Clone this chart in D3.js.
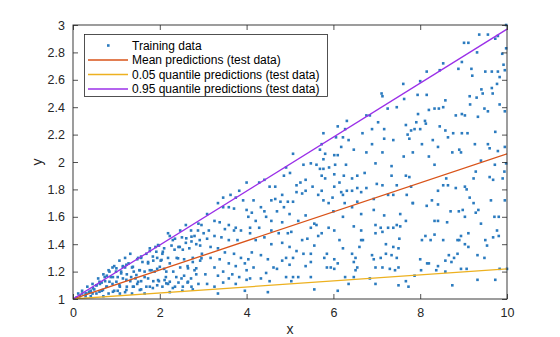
<!DOCTYPE html>
<html><head><meta charset="utf-8">
<script src="https://cdn.jsdelivr.net/npm/d3@7"></script>
<style>body{margin:0;background:#fff}svg{display:block}text{font-family:"Liberation Sans",Arial,Helvetica,sans-serif}</style>
</head><body><svg id="c" width="560" height="337"></svg>
<script>
// Training data (x, y)
const trainX = [9.01,9.11,9.36,9.56,9.73,9.79,9.98,9.98,9.31,9.89,8.96,9.92,8.88,9.18,9.5,9.65,9.79,9.95,9.2,9.83,9.77,9.65,9.41,9.44,9.67,9.14,9.3,9.15,9.83,9.48,9.56,9.95,8.96,9.03,9.33,8.82,8.96,9.09,9.73,9.95,9.26,9.56,9.6,8.94,8.9,9.79,9.98,9.40,9.72,9.94,9.28,9.23,9.6,9.68,9.9,9.03,9.07,9.14,9.23,9.63,9.95,9.34,9.28,9.81,9.71,8.89,8.98,9.03,9.4,9.11,8.94,9.81,8.86,9.5,9.68,9.54,9.03,9.11,9.77,9.32,9.48,9.07,9.83,10,9.32,9.73,8.94,
8.53,8.45,8.15,8.0,7.94,8.15,8.58,8.53,8.43,8.33,8.2,7.95,8.11,7.91,8.13,8.45,8.58,7.87,8.0,7.79,8.64,8.76,8.29,8.04,8.41,8.74,7.83,8.2,8.33,8.6,8.64,8.53,8.82,8.41,8.27,8.15,8.41,7.83,8.7,8.33,8.41,8.62,8.12,8.33,8.04,8.24,8.53,8.9,8.86,8.78,8.72,8.58,8.66,8.16,8.0,8.02,8.2,8.41,8.37,8.58,8.74,7.87,7.73,7.5,7.67,7.42,
7.61,7.63,7.46,7.25,7.11,7.13,6.84,6.76,7.03,6.89,7.17,7.67,7.71,7.75,7.38,7.17,6.67,6.89,7.13,6.76,7.62,7.34,6.97,6.72,7.34,7.67,7.75,7.0,7.13,7.46,7.79,6.76,6.64,7.26,7.38,7.69,7.83,6.93,7.17,7.54,7.67,6.97,7.09,7.26,7.38,7.46,7.54,6.97,7.13,7.52,7.21,7.38,7.50,7.34,7.46,7.21,7.09,6.89,6.60,6.64,6.68,6.97,7.13,7.30,7.50,6.84,6.97,6.55,6.47,6.51,
6.31,6.27,6.1,6.06,6.22,6.35,6.47,6.18,6.02,6.1,6.29,6.04,5.9,5.77,6.02,6.24,6.43,6.55,6.14,5.81,6.02,6.18,6.31,6.43,6.55,6.22,5.98,5.89,6.26,6.55,6.43,6.93,6.0,6.22,6.47,6.64,6.02,6.14,5.85,6.43,6.51,6.02,6.1,6.22,5.94,6.02,6.27,6.47,6.35,6.1,6.93,6.64,
5.77,5.73,5.69,5.81,5.77,5.61,5.69,5.48,5.31,5.73,5.36,5.24,5.15,5.0,5.52,5.36,5.28,5.15,5.65,5.77,5.73,5.07,5.36,5.19,5.56,5.48,5.61,5.73,5.65,5.40,5.28,5.03,5.56,5.48,5.31,5.15,5.07,5.36,5.48,5.85,5.48,5.19,5.07,5.56,5.03,5.79,5.89,
4.41,4.29,4.53,4.66,4.91,5.07,4.86,4.82,4.95,4.78,4.66,4.57,4.16,4.33,4.12,4.41,4.86,4.70,4.99,4.04,4.21,4.45,4.57,4.82,4.08,4.29,4.57,4.74,4.95,4.08,4.21,4.41,4.57,4.82,4.99,4.12,4.33,4.49,4.62,4.70,4.82,4.91,4.04,4.16,4.45,4.0,4.08,4.33,4.53,3.96,4.49,4.91,4.99,
3.83,3.75,3.63,3.46,3.34,3.46,3.59,3.71,4.0,3.92,4.0,3.09,3.26,3.38,3.59,3.50,3.75,3.87,3.71,3.13,3.01,3.26,3.42,3.59,3.79,3.09,2.93,3.17,3.34,3.50,3.71,3.87,2.97,3.17,3.38,3.59,3.75,3.96,3.26,3.46,3.67,3.05,3.34,3.59,3.83,3.09,3.26,3.46,3.34,3.75,4.0,
2.60,2.47,2.72,2.89,2.80,2.51,2.35,2.19,2.60,2.84,2.27,2.43,2.68,2.10,2.06,2.19,2.39,2.56,2.76,2.93,2.02,2.23,2.47,2.64,2.80,2.10,2.31,2.56,2.72,2.14,2.19,2.43,2.64,2.89,2.35,2.06,2.76,2.52,2.23,2.84,
1.15,1.20,1.28,1.36,1.48,1.57,1.69,1.77,1.90,1.98,1.60,1.73,1.85,1.94,1.11,1.24,1.40,1.53,1.65,1.81,1.94,1.03,1.15,1.32,1.44,1.57,1.73,1.85,1.98,1.07,1.24,1.40,1.57,1.77,1.94,1.20,1.36,1.03,1.65,1.48,1.32,1.20,1.07,
0.95,0.82,0.70,0.58,0.45,0.33,0.21,0.12,0.87,0.74,0.62,0.49,0.37,0.91,0.78,0.66,0.54,0.41,0.29,0.95,0.82,0.70,0.99,0.78,0.66,0.54,0.41,0.29,0.16,0.08,0.91,0.21,0.45,
2.96,2.88,2.73,2.61,2.23,2.30,2.46,2.34,2.53,2.73,2.92,1.92,1.84,2.04,1.73,1.57,1.50,1.54,1.38,1.23,1.15,1.34,1.46,1.65,1.77,1.88,2.0,2.15,2.23,2.15,2.38,2.50,2.65,2.73,2.53,2.30,1.84,1.69,1.54,1.38,1.23,1.08,1.0,0.92,0.84,0.77,0.69,0.61,0.92,1.08,0.84,0.73,0.61,0.54,0.46,0.38,0.31,1.0,1.11,1.23,2.42,2.07,2.76,2.84,2.65,2.96,1.77,1.96,2.11,1.50,1.96];
const trainY = [2.87,2.87,2.93,2.93,2.90,2.92,3.0,2.83,2.80,2.79,2.73,2.71,2.68,2.68,2.66,2.66,2.66,2.67,2.63,2.62,2.57,2.54,2.53,2.50,2.50,2.48,2.47,2.42,2.42,2.39,2.37,2.37,2.35,2.34,2.33,2.34,2.21,2.21,2.22,2.11,2.13,2.13,2.10,2.07,2.09,2.08,1.99,2.01,1.98,1.93,1.93,1.88,1.89,1.87,1.88,1.82,1.80,1.74,1.70,1.72,1.72,1.65,1.63,1.60,1.60,1.64,1.65,1.60,1.55,1.48,1.46,1.46,1.43,1.43,1.45,1.39,1.40,1.38,1.50,1.32,1.30,1.22,1.22,1.22,1.14,1.14,1.22,
2.72,2.67,2.66,2.59,2.49,2.49,2.45,2.40,2.39,2.39,2.38,2.35,2.30,2.29,2.28,2.26,2.23,2.24,2.24,2.23,2.18,2.21,2.16,2.13,2.11,2.07,2.07,2.04,1.98,1.88,1.83,1.83,1.81,1.79,1.72,1.68,1.69,1.70,1.64,1.57,1.57,1.56,1.46,1.47,1.43,1.43,1.43,1.43,1.33,1.30,1.27,1.28,1.32,1.26,1.29,1.21,1.26,1.24,1.21,1.20,1.10,1.17,1.09,1.10,1.13,1.21,
2.57,2.46,2.40,2.39,2.50,2.48,2.34,2.34,2.29,2.24,2.24,2.27,2.20,2.17,2.16,2.17,2.21,2.13,2.07,2.07,2.04,1.97,1.99,1.92,1.90,1.90,1.89,1.84,1.83,1.83,1.82,1.81,1.78,1.76,1.76,1.76,1.70,1.65,1.61,1.62,1.57,1.54,1.52,1.52,1.52,1.54,1.53,1.48,1.49,1.44,1.40,1.38,1.37,1.32,1.30,1.33,1.30,1.32,1.38,1.43,1.43,1.23,1.23,1.22,1.23,1.15,1.11,1.23,1.27,1.21,
2.30,2.24,2.26,2.18,2.18,2.16,2.09,2.11,2.05,2.05,1.98,1.98,1.96,1.95,1.91,1.90,1.88,1.90,1.85,1.88,1.82,1.78,1.79,1.79,1.81,1.76,1.74,1.70,1.70,1.71,1.67,1.73,1.64,1.60,1.53,1.50,1.50,1.43,1.33,1.33,1.30,1.29,1.26,1.37,1.23,1.22,1.16,1.16,1.11,1.06,1.29,1.62,
2.21,2.13,2.09,2.06,2.02,1.98,1.95,1.99,1.98,1.90,1.87,1.85,1.83,1.92,1.82,1.79,1.77,1.78,1.76,1.72,1.79,1.71,1.61,1.57,1.55,1.52,1.54,1.48,1.46,1.44,1.43,1.49,1.39,1.33,1.33,1.35,1.30,1.24,1.27,1.23,1.16,1.16,1.16,1.07,1.13,1.30,1.52,
1.87,1.85,1.82,1.82,1.96,2.06,1.90,1.76,1.71,1.71,1.73,1.72,1.72,1.67,1.63,1.64,1.67,1.64,1.62,1.60,1.57,1.60,1.57,1.56,1.52,1.52,1.50,1.48,1.48,1.48,1.43,1.45,1.40,1.41,1.38,1.34,1.32,1.29,1.23,1.22,1.28,1.30,1.29,1.23,1.19,1.21,1.15,1.15,1.13,1.06,1.05,1.16,1.25,
1.79,1.74,1.76,1.74,1.70,1.67,1.67,1.66,1.85,1.72,1.65,1.62,1.57,1.56,1.54,1.51,1.52,1.50,1.50,1.50,1.48,1.46,1.45,1.43,1.43,1.44,1.39,1.38,1.37,1.34,1.33,1.30,1.33,1.30,1.29,1.26,1.24,1.26,1.23,1.20,1.18,1.18,1.17,1.15,1.16,1.11,1.09,1.12,1.04,1.11,1.14,
1.54,1.50,1.50,1.55,1.46,1.45,1.44,1.48,1.41,1.40,1.39,1.38,1.37,1.37,1.33,1.30,1.30,1.29,1.30,1.28,1.28,1.26,1.23,1.24,1.21,1.22,1.20,1.17,1.15,1.16,1.11,1.12,1.12,1.11,1.09,1.09,1.07,1.06,1.05,1.18,
1.24,1.23,1.26,1.23,1.29,1.30,1.33,1.35,1.38,1.39,1.27,1.26,1.28,1.30,1.20,1.18,1.20,1.21,1.20,1.21,1.22,1.16,1.15,1.13,1.15,1.13,1.15,1.13,1.13,1.10,1.09,1.09,1.07,1.09,1.10,1.05,1.04,1.06,1.04,1.11,1.33,1.30,1.28,
1.24,1.21,1.18,1.15,1.11,1.09,1.06,1.04,1.16,1.13,1.11,1.07,1.05,1.11,1.09,1.06,1.04,1.02,1.02,1.06,1.04,1.02,1.20,1.17,1.12,1.10,1.06,1.04,1.02,1.01,1.23,1.04,1.04,
1.54,1.50,1.455,1.443,1.46,1.43,1.38,1.36,1.36,1.42,1.43,1.345,1.31,1.285,1.27,1.31,1.30,1.21,1.235,1.25,1.235,1.16,1.175,1.16,1.21,1.20,1.235,1.20,1.126,1.114,1.16,1.15,1.126,1.09,1.09,1.08,1.08,1.09,1.066,1.09,1.066,1.09,1.126,1.16,1.126,1.09,1.066,1.053,1.053,1.04,1.20,1.16,1.126,1.10,1.078,1.053,1.04,1.224,1.187,1.14,1.297,1.345,1.27,1.224,1.224,1.297,1.37,1.394,1.138,1.126,1.138];

// Prediction lines (test data), read at the ends of the x range
const testX = [0, 10];
const meanPred = [1.0, 2.06];
const q05Pred = [1.0, 1.22];
const q95Pred = [1.0, 2.97];

const xTicks = [0, 2, 4, 6, 8, 10];
const yTicks = [1, 1.2, 1.4, 1.6, 1.8, 2, 2.2, 2.4, 2.6, 2.8, 3];
const legendLabels = ["Training data", "Mean predictions (test data)", "0.05 quantile predictions (test data)", "0.95 quantile predictions (test data)"];

const svg = d3.select("#c");
const L = 73, T = 25, W = 434, H = 274;
const x = d3.scaleLinear().domain([0, 10]).range([L, L + W]);
const y = d3.scaleLinear().domain([1, 3]).range([T + H, T]);

svg.append("clipPath").attr("id", "pc").append("rect").attr("x", L).attr("y", T).attr("width", W).attr("height", H);

// scatter
svg.append("g").selectAll("rect").data(d3.range(trainX.length)).join("rect")
  .attr("x", i => x(trainX[i]) - 1.3).attr("y", i => y(trainY[i]) - 1.3)
  .attr("width", 2.6).attr("height", 2.6).attr("fill", "#2b7bbf");

const line = d3.line().x(d => x(d[0])).y(d => y(d[1]));
const series = [
  {v: meanPred, c: "#d95319"},
  {v: q05Pred, c: "#edb120"},
  {v: q95Pred, c: "#9b30e8"}
];
series.forEach(s => {
  svg.append("path").attr("d", line(testX.map((t, i) => [t, s.v[i]])))
    .attr("fill", "none").attr("stroke", s.c).attr("stroke-width", 1.3).attr("clip-path", "url(#pc)");
});

// axes (MATLAB style box, inward ticks)
const tl = 5;
const ax = svg.append("g");
const xb = d3.axisBottom(x).tickValues(xTicks).tickSizeInner(-tl).tickSizeOuter(0).tickPadding(9).tickFormat(d3.format("d"));
ax.append("g").attr("transform", `translate(0,${T + H})`).call(xb);
const xt = d3.axisTop(x).tickValues(xTicks).tickSizeInner(-tl).tickSizeOuter(0).tickFormat("");
ax.append("g").attr("transform", `translate(0,${T})`).call(xt);
const yl = d3.axisLeft(y).tickValues(yTicks).tickSizeInner(-tl).tickSizeOuter(0).tickPadding(8).tickFormat(d => d3.format("")(d));
ax.append("g").attr("transform", `translate(${L},0)`).call(yl);
const yr = d3.axisRight(y).tickValues(yTicks).tickSizeInner(-tl).tickSizeOuter(0).tickFormat("");
ax.append("g").attr("transform", `translate(${L + W},0)`).call(yr);
ax.selectAll(".domain").remove();
ax.selectAll(".tick line").attr("stroke", "#262626").attr("stroke-width", 0.8);
ax.selectAll("text").attr("font-size", 12.5).attr("fill", "#262626").attr("font-family", "Liberation Sans, Arial, sans-serif");
svg.append("rect").attr("x", L).attr("y", T).attr("width", W).attr("height", H)
  .attr("fill", "none").attr("stroke", "#262626").attr("stroke-width", 0.9);

svg.append("text").attr("x", L + W / 2).attr("y", 334).attr("text-anchor", "middle")
  .attr("font-size", 14).attr("fill", "#262626").text("x");
svg.append("text").attr("transform", `translate(42,${T + H / 2}) rotate(-90)`).attr("text-anchor", "middle")
  .attr("font-size", 14).attr("fill", "#262626").text("y");

// legend
const lg = svg.append("g");
lg.append("rect").attr("x", 84.5).attr("y", 34.5).attr("width", 243).attr("height", 62)
  .attr("fill", "#fff").attr("stroke", "#262626").attr("stroke-width", 0.8);
const rowY = [45.5, 60, 74.5, 89];
legendLabels.forEach((lab, i) => {
  if (i === 0) {
    lg.append("rect").attr("x", 107).attr("y", rowY[i] - 1.3).attr("width", 2.6).attr("height", 2.6).attr("fill", "#2b7bbf");
  } else {
    lg.append("line").attr("x1", 88).attr("x2", 128).attr("y1", rowY[i]).attr("y2", rowY[i])
      .attr("stroke", series[i - 1].c).attr("stroke-width", 1.3);
  }
  lg.append("text").attr("x", 132).attr("y", rowY[i] + 4.3).attr("font-size", 12).attr("fill", "#000").text(lab);
});
</script></body></html>
